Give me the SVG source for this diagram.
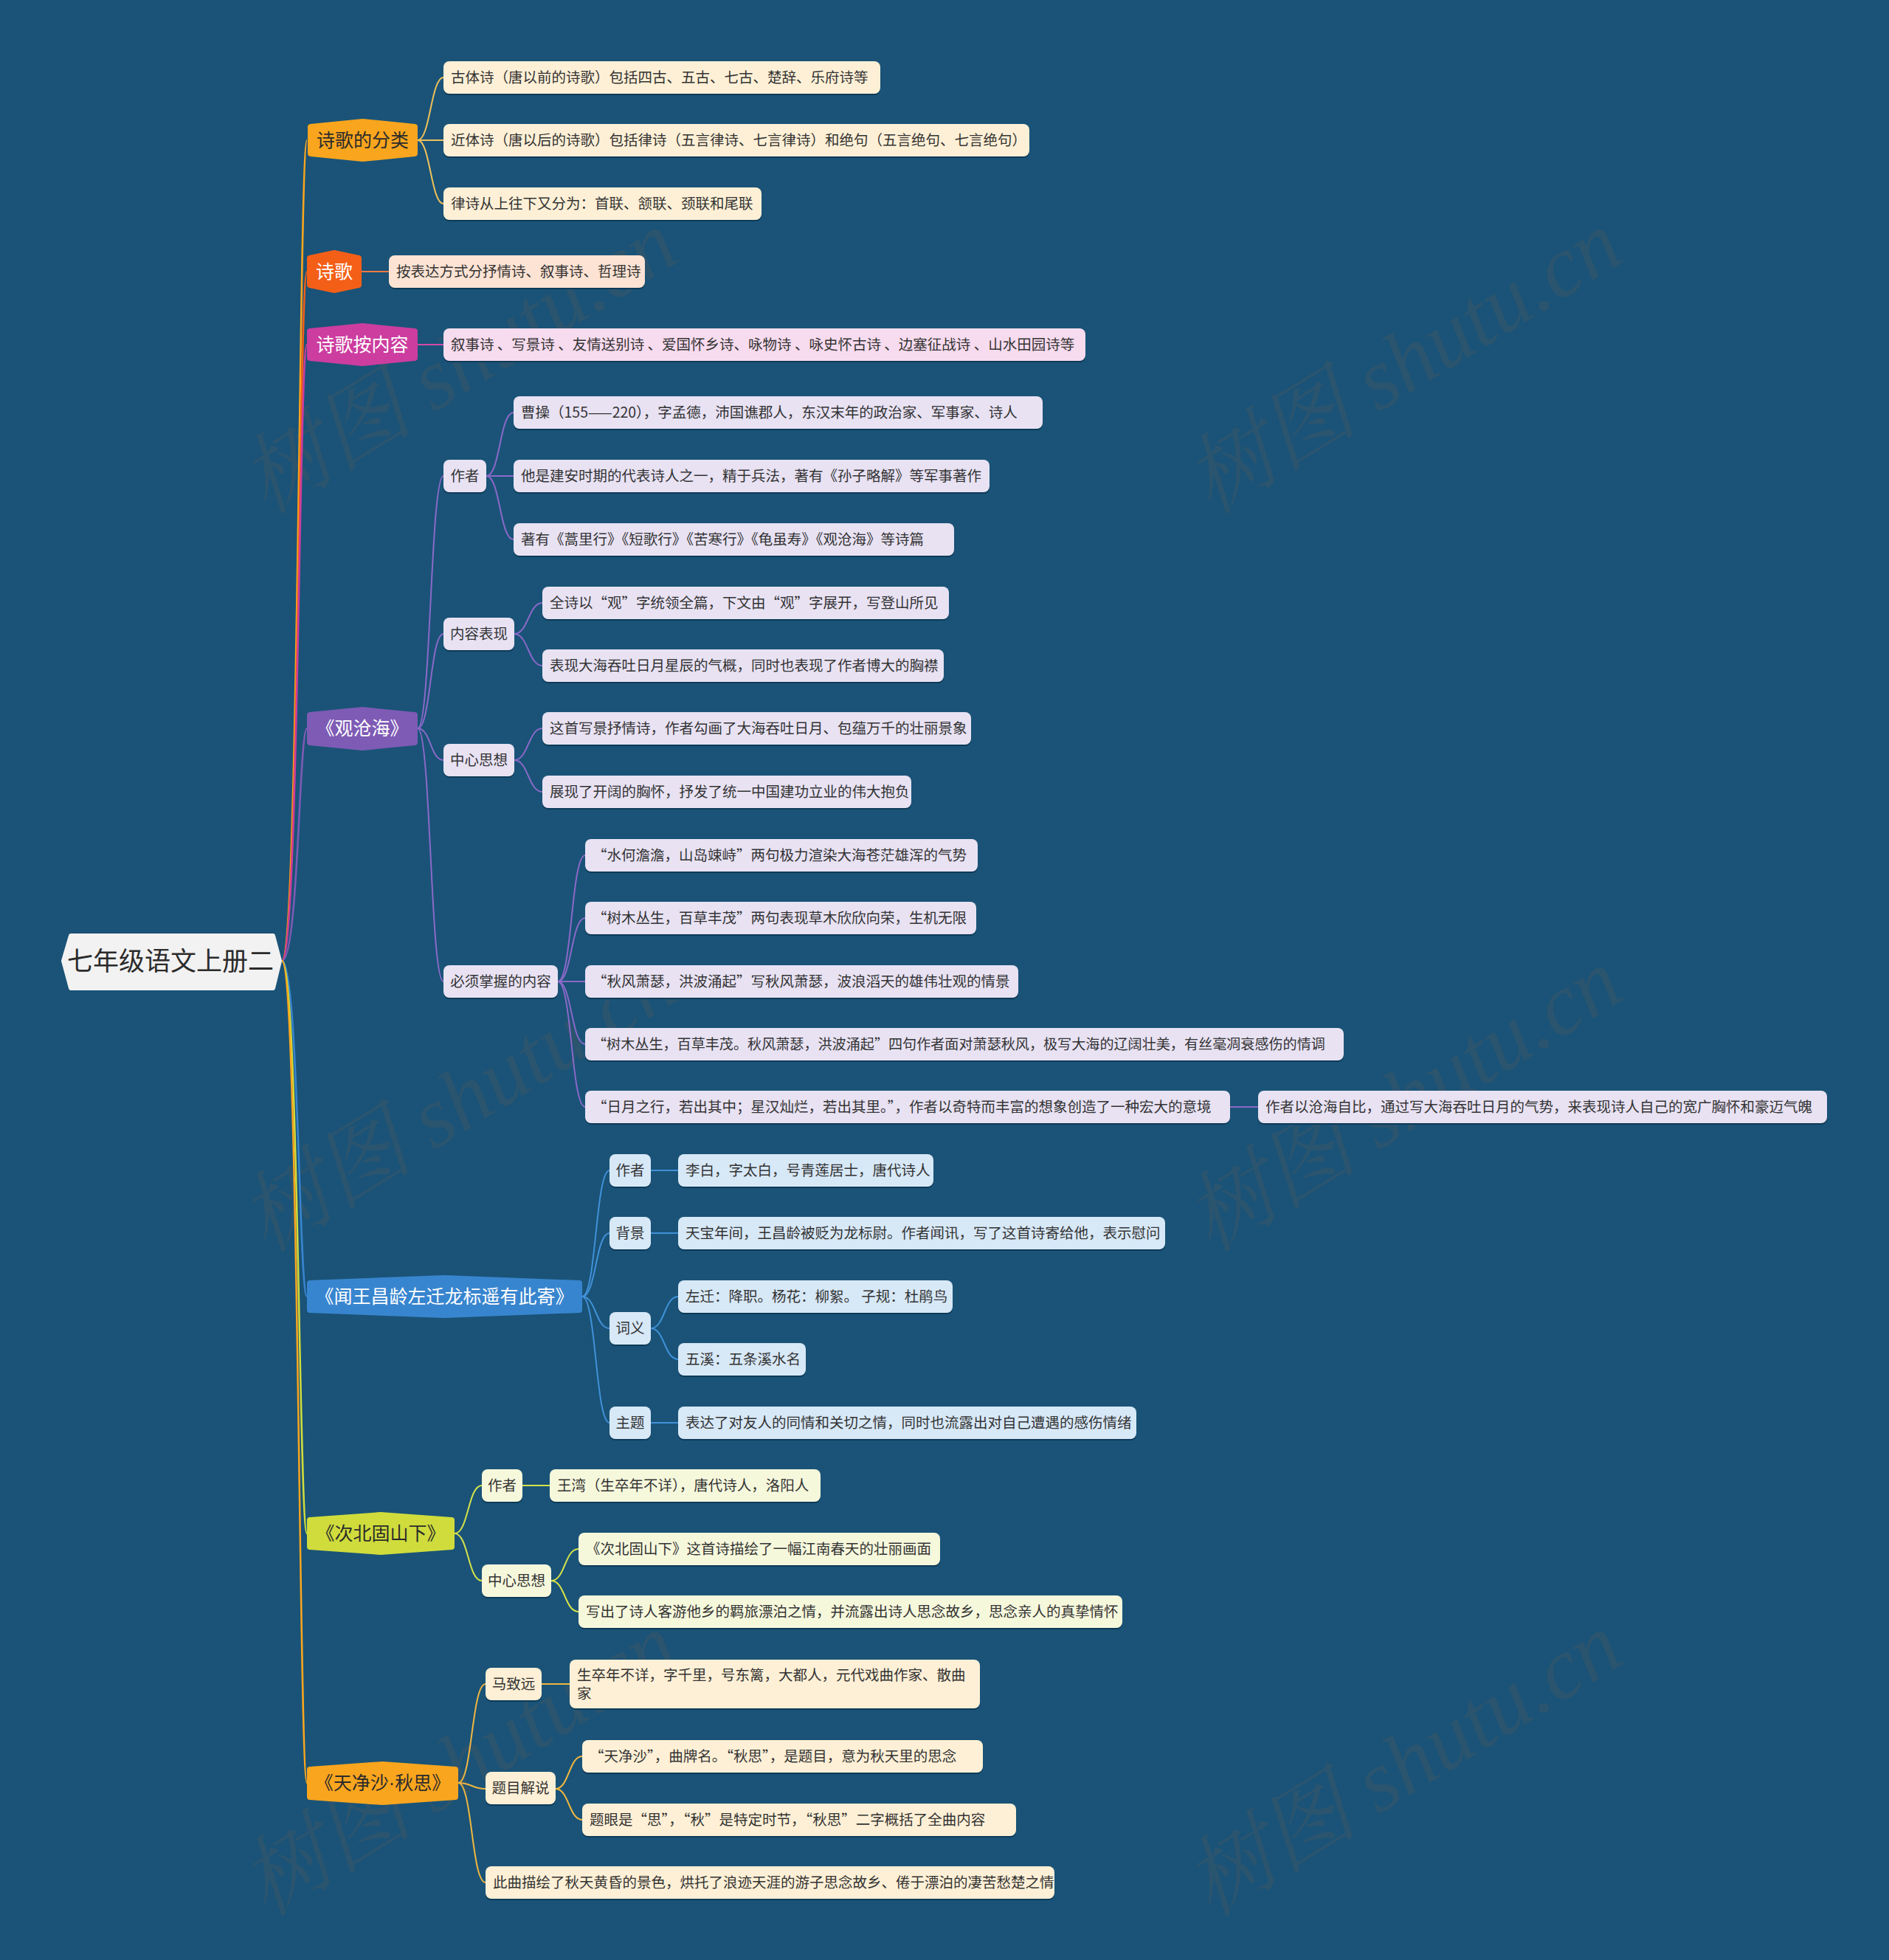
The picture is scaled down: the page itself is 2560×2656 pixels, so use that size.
<svg xmlns="http://www.w3.org/2000/svg" width="2560" height="2656" viewBox="0 0 2560 2656">
<defs>
<style>
text{font-family:"Noto Sans CJK SC","Liberation Sans",sans-serif;}
.t{font-size:19.5px;fill:#333333;}
.tc{font-size:19.5px;fill:#333333;text-anchor:middle;}
.m{font-size:25px;text-anchor:middle;}
.mw{fill:#ffffff;}
.md{fill:#2b2b2b;}
.sh{fill:#0d3a58;}
.hx{stroke-width:8;stroke-linejoin:round;}
.c{fill:none;stroke-width:2;}
.cr{fill:none;stroke-width:2.5;}
.o1{fill:#fef0d6;} .o2{fill:#fde3d3;} .o3{fill:#f7dbee;} .o4{fill:#e8e2f3;} .o5{fill:#d7e8f7;} .o6{fill:#f6f8dc;}
.lat{font-family:"Liberation Sans",sans-serif;}
.wm{font-family:"Liberation Serif","Noto Serif CJK SC","Noto Sans CJK SC",serif;font-style:italic;font-size:118px;fill:#5a5a5a;opacity:0.27;text-anchor:middle;}
</style>
</defs>
<rect x="0" y="0" width="2560" height="2656" fill="#1a5377"/>

<g id="watermarks">
<text class="wm" transform="translate(643,525) rotate(-31.6)">树图 shutu.cn</text>
<text class="wm" transform="translate(1923,525) rotate(-31.6)">树图 shutu.cn</text>
<text class="wm" transform="translate(643,1525) rotate(-31.6)">树图 shutu.cn</text>
<text class="wm" transform="translate(1923,1525) rotate(-31.6)">树图 shutu.cn</text>
<text class="wm" transform="translate(643,2425) rotate(-31.6)">树图 shutu.cn</text>
<text class="wm" transform="translate(1923,2425) rotate(-31.6)">树图 shutu.cn</text>
</g>

<g id="connectors">
<path class="cr" stroke="#f9a51e" d="M382,1302 C405,1302 405,190 416,190"/>
<path class="cr" stroke="#f45f18" d="M382,1302 C405,1302 405,368 416,368"/>
<path class="cr" stroke="#cc3d9f" d="M382,1302 C405,1302 405,467 416,467"/>
<path class="cr" stroke="#7e5bb5" d="M382,1302 C405,1302 405,987 416,987"/>
<path class="cr" stroke="#3885cf" d="M382,1302 C405,1302 405,1757 416,1757"/>
<path class="cr" stroke="#cfdc3c" d="M382,1302 C405,1302 405,2078 416,2078"/>
<path class="cr" stroke="#f9a51e" d="M382,1302 C405,1302 405,2416 416,2416"/>
<g stroke="#efc15a">
<path class="c" d="M566,190 C583,190 584,105 601,105"/>
<path class="c" d="M566,190 L601,190"/>
<path class="c" d="M566,190 C583,190 584,276 601,276"/>
</g>
<path class="c" stroke="#f47a44" d="M490,368 L527,368"/>
<path class="c" stroke="#d34aa8" d="M566,467 L601,467"/>
<g stroke="#8a69c9">
<path class="c" d="M566,987 C584,987 583,645 601,645"/>
<path class="c" d="M566,987 C584,987 583,859 601,859"/>
<path class="c" d="M566,987 C584,987 583,1030 601,1030"/>
<path class="c" d="M566,987 C584,987 583,1330 601,1330"/>
<path class="c" d="M659,645 C678,645 677,559 696,559"/>
<path class="c" d="M659,645 L696,645"/>
<path class="c" d="M659,645 C678,645 677,731 696,731"/>
<path class="c" d="M697,859 C716,859 716,817 735,817"/>
<path class="c" d="M697,859 C716,859 716,902 735,902"/>
<path class="c" d="M697,1030 C716,1030 716,987 735,987"/>
<path class="c" d="M697,1030 C716,1030 716,1073 735,1073"/>
<path class="c" d="M756,1330 C775,1330 774,1159 793,1159"/>
<path class="c" d="M756,1330 C775,1330 774,1244 793,1244"/>
<path class="c" d="M756,1330 L793,1330"/>
<path class="c" d="M756,1330 C775,1330 774,1415 793,1415"/>
<path class="c" d="M756,1330 C775,1330 774,1500 793,1500"/>
<path class="c" d="M1667,1500 L1705,1500"/>
</g>
<g stroke="#4191d8">
<path class="c" d="M789,1757 C808,1757 807,1586 826,1586"/>
<path class="c" d="M789,1757 C808,1757 807,1671 826,1671"/>
<path class="c" d="M789,1757 C808,1757 807,1800 826,1800"/>
<path class="c" d="M789,1757 C808,1757 807,1928 826,1928"/>
<path class="c" d="M882,1586 L919,1586"/>
<path class="c" d="M882,1671 L919,1671"/>
<path class="c" d="M882,1800 C901,1800 900,1757 919,1757"/>
<path class="c" d="M882,1800 C901,1800 900,1842 919,1842"/>
<path class="c" d="M882,1928 L919,1928"/>
</g>
<g stroke="#d6e24a">
<path class="c" d="M616,2078 C635,2078 634,2013 653,2013"/>
<path class="c" d="M616,2078 C635,2078 634,2142 653,2142"/>
<path class="c" d="M708,2013 L745,2013"/>
<path class="c" d="M747,2142 C766,2142 765,2099 784,2099"/>
<path class="c" d="M747,2142 C766,2142 765,2184 784,2184"/>
</g>
<g stroke="#efb540">
<path class="c" d="M621,2416 C640,2416 639,2282 658,2282"/>
<path class="c" d="M621,2416 C640,2416 639,2424 658,2424"/>
<path class="c" d="M621,2416 C640,2416 639,2551 658,2551"/>
<path class="c" d="M734,2282 L772,2282"/>
<path class="c" d="M753,2424 C771,2424 771,2380 789,2380"/>
<path class="c" d="M753,2424 C771,2424 771,2466 789,2466"/>
</g>
</g>

<g id="root">
<polygon points="86,1302 96,1268 370,1268 379,1302 370,1339 96,1339" fill="#f2f2f2" stroke="#f2f2f2" stroke-width="6" stroke-linejoin="round"/>
<text x="231" y="1315" font-size="35" fill="#2b2b2b" text-anchor="middle">七年级语文上册二</text>
</g>

<g id="n-fenlei">
<polygon class="hx" fill="#f9a51e" stroke="#f9a51e" points="421,172 491.5,165 562,172 562,208 491.5,215 421,208"/>
<text class="m md" x="491.5" y="199">诗歌的分类</text>
</g>
<g id="n-fenlei-1"><rect class="sh" x="601" y="85" width="592" height="44" rx="8"/><rect class="o1" x="601" y="83" width="592" height="44" rx="8"/><text class="t" x="611" y="112">古体诗（唐以前的诗歌）包括四古、五古、七古、楚辞、乐府诗等</text></g>
<g id="n-fenlei-2"><rect class="sh" x="601" y="170" width="794" height="44" rx="8"/><rect class="o1" x="601" y="168" width="794" height="44" rx="8"/><text class="t" x="611" y="197">近体诗（唐以后的诗歌）包括律诗（五言律诗、七言律诗）和绝句（五言绝句、七言绝句）</text></g>
<g id="n-fenlei-3"><rect class="sh" x="601" y="256" width="431" height="44" rx="8"/><rect class="o1" x="601" y="254" width="431" height="44" rx="8"/><text class="t" x="611" y="283">律诗从上往下又分为：首联、颔联、颈联和尾联</text></g>

<g id="n-shige">
<polygon class="hx" fill="#f45f18" stroke="#f45f18" points="420,350 453,343 486,350 486,386 453,393 420,386"/>
<text class="m mw" x="453" y="377">诗歌</text>
</g>
<g id="n-shige-1"><rect class="sh" x="527" y="348" width="347" height="44" rx="8"/><rect class="o2" x="527" y="346" width="347" height="44" rx="8"/><text class="t" x="537" y="375">按表达方式分抒情诗、叙事诗、哲理诗</text></g>

<g id="n-neirong">
<polygon class="hx" fill="#cc3d9f" stroke="#cc3d9f" points="420,449 491,442 562,449 562,485 491,492 420,485"/>
<text class="m mw" x="491" y="476">诗歌按内容</text>
</g>
<g id="n-neirong-1"><rect class="sh" x="601" y="447" width="870" height="44" rx="8"/><rect class="o3" x="601" y="445" width="870" height="44" rx="8"/><text class="t" x="611" y="474">叙事诗 、写景诗 、友情送别诗 、爱国怀乡诗、咏物诗 、咏史怀古诗 、边塞征战诗 、山水田园诗等</text></g>

<g id="n-gch">
<polygon class="hx" fill="#7e5bb5" stroke="#7e5bb5" points="420,969 491,962 562,969 562,1006 491,1013 420,1006"/>
<text class="m mw" x="491" y="996">《观沧海》</text>
</g>
<g id="n-gch-zz"><rect class="sh" x="601" y="625" width="58" height="44" rx="8"/><rect class="o4" x="601" y="623" width="58" height="44" rx="8"/><text class="tc" x="630" y="652">作者</text></g>
<g id="n-gch-zz1"><rect class="sh" x="696" y="539" width="717" height="44" rx="8"/><rect class="o4" x="696" y="537" width="717" height="44" rx="8"/><text class="t" x="706" y="566">曹操（155——220），字孟德，沛国谯郡人，东汉末年的政治家、军事家、诗人</text></g>
<g id="n-gch-zz2"><rect class="sh" x="696" y="625" width="645" height="44" rx="8"/><rect class="o4" x="696" y="623" width="645" height="44" rx="8"/><text class="t" x="706" y="652">他是建安时期的代表诗人之一，精于兵法，著有《孙子略解》等军事著作</text></g>
<g id="n-gch-zz3"><rect class="sh" x="696" y="711" width="597" height="44" rx="8"/><rect class="o4" x="696" y="709" width="597" height="44" rx="8"/><text class="t" x="706" y="738">著有《蒿里行》《短歌行》《苦寒行》《龟虽寿》《观沧海》等诗篇</text></g>
<g id="n-gch-nr"><rect class="sh" x="601" y="839" width="96" height="44" rx="8"/><rect class="o4" x="601" y="837" width="96" height="44" rx="8"/><text class="tc" x="649" y="866">内容表现</text></g>
<g id="n-gch-nr1"><rect class="sh" x="735" y="797" width="551" height="44" rx="8"/><rect class="o4" x="735" y="795" width="551" height="44" rx="8"/><text class="t" x="745" y="824">全诗以“观”字统领全篇，下文由“观”字展开，写登山所见</text></g>
<g id="n-gch-nr2"><rect class="sh" x="735" y="882" width="544" height="44" rx="8"/><rect class="o4" x="735" y="880" width="544" height="44" rx="8"/><text class="t" x="745" y="909">表现大海吞吐日月星辰的气概，同时也表现了作者博大的胸襟</text></g>
<g id="n-gch-zx"><rect class="sh" x="601" y="1010" width="96" height="44" rx="8"/><rect class="o4" x="601" y="1008" width="96" height="44" rx="8"/><text class="tc" x="649" y="1037">中心思想</text></g>
<g id="n-gch-zx1"><rect class="sh" x="735" y="967" width="581" height="44" rx="8"/><rect class="o4" x="735" y="965" width="581" height="44" rx="8"/><text class="t" x="745" y="994">这首写景抒情诗，作者勾画了大海吞吐日月、包蕴万千的壮丽景象</text></g>
<g id="n-gch-zx2"><rect class="sh" x="735" y="1053" width="500" height="44" rx="8"/><rect class="o4" x="735" y="1051" width="500" height="44" rx="8"/><text class="t" x="745" y="1080">展现了开阔的胸怀，抒发了统一中国建功立业的伟大抱负</text></g>
<g id="n-gch-bx"><rect class="sh" x="601" y="1310" width="155" height="44" rx="8"/><rect class="o4" x="601" y="1308" width="155" height="44" rx="8"/><text class="tc" x="678.5" y="1337">必须掌握的内容</text></g>
<g id="n-gch-bx1"><rect class="sh" x="793" y="1139" width="532" height="44" rx="8"/><rect class="o4" x="793" y="1137" width="532" height="44" rx="8"/><text class="t" x="803" y="1166">“水何澹澹，山岛竦峙”两句极力渲染大海苍茫雄浑的气势</text></g>
<g id="n-gch-bx2"><rect class="sh" x="793" y="1224" width="530" height="44" rx="8"/><rect class="o4" x="793" y="1222" width="530" height="44" rx="8"/><text class="t" x="803" y="1251">“树木丛生，百草丰茂”两句表现草木欣欣向荣，生机无限</text></g>
<g id="n-gch-bx3"><rect class="sh" x="793" y="1310" width="587" height="44" rx="8"/><rect class="o4" x="793" y="1308" width="587" height="44" rx="8"/><text class="t" x="803" y="1337">“秋风萧瑟，洪波涌起”写秋风萧瑟，波浪滔天的雄伟壮观的情景</text></g>
<g id="n-gch-bx4"><rect class="sh" x="793" y="1395" width="1028" height="44" rx="8"/><rect class="o4" x="793" y="1393" width="1028" height="44" rx="8"/><text class="t" x="803" y="1422" style="font-size:19.1px">“树木丛生，百草丰茂。秋风萧瑟，洪波涌起”四句作者面对萧瑟秋风，极写大海的辽阔壮美，有丝毫凋衰感伤的情调</text></g>
<g id="n-gch-bx5"><rect class="sh" x="793" y="1480" width="874" height="44" rx="8"/><rect class="o4" x="793" y="1478" width="874" height="44" rx="8"/><text class="t" x="803" y="1507">“日月之行，若出其中；星汉灿烂，若出其里。”，作者以奇特而丰富的想象创造了一种宏大的意境</text></g>
<g id="n-gch-bx5a"><rect class="sh" x="1705" y="1480" width="771" height="44" rx="8"/><rect class="o4" x="1705" y="1478" width="771" height="44" rx="8"/><text class="t" x="1715" y="1507">作者以沧海自比，通过写大海吞吐日月的气势，来表现诗人自己的宽广胸怀和豪迈气魄</text></g>

<g id="n-wwcl">
<polygon class="hx" fill="#3885cf" stroke="#3885cf" points="420,1739 602.5,1732 785,1739 785,1775 602.5,1782 420,1775"/>
<text class="m mw" x="602.5" y="1766">《闻王昌龄左迁龙标遥有此寄》</text>
</g>
<g id="n-wwcl-zz"><rect class="sh" x="826" y="1566" width="56" height="44" rx="8"/><rect class="o5" x="826" y="1564" width="56" height="44" rx="8"/><text class="tc" x="854" y="1593">作者</text></g>
<g id="n-wwcl-zz1"><rect class="sh" x="919" y="1566" width="346" height="44" rx="8"/><rect class="o5" x="919" y="1564" width="346" height="44" rx="8"/><text class="t" x="929" y="1593">李白，字太白，号青莲居士，唐代诗人</text></g>
<g id="n-wwcl-bj"><rect class="sh" x="826" y="1651" width="56" height="44" rx="8"/><rect class="o5" x="826" y="1649" width="56" height="44" rx="8"/><text class="tc" x="854" y="1678">背景</text></g>
<g id="n-wwcl-bj1"><rect class="sh" x="919" y="1651" width="660" height="44" rx="8"/><rect class="o5" x="919" y="1649" width="660" height="44" rx="8"/><text class="t" x="929" y="1678">天宝年间，王昌龄被贬为龙标尉。作者闻讯，写了这首诗寄给他，表示慰问</text></g>
<g id="n-wwcl-cy"><rect class="sh" x="826" y="1780" width="56" height="44" rx="8"/><rect class="o5" x="826" y="1778" width="56" height="44" rx="8"/><text class="tc" x="854" y="1807">词义</text></g>
<g id="n-wwcl-cy1"><rect class="sh" x="919" y="1737" width="372" height="44" rx="8"/><rect class="o5" x="919" y="1735" width="372" height="44" rx="8"/><text class="t" x="929" y="1764">左迁：降职。杨花：柳絮。 子规：杜鹃鸟</text></g>
<g id="n-wwcl-cy2"><rect class="sh" x="919" y="1822" width="173" height="44" rx="8"/><rect class="o5" x="919" y="1820" width="173" height="44" rx="8"/><text class="t" x="929" y="1849">五溪：五条溪水名</text></g>
<g id="n-wwcl-zt"><rect class="sh" x="826" y="1908" width="56" height="44" rx="8"/><rect class="o5" x="826" y="1906" width="56" height="44" rx="8"/><text class="tc" x="854" y="1935">主题</text></g>
<g id="n-wwcl-zt1"><rect class="sh" x="919" y="1908" width="621" height="44" rx="8"/><rect class="o5" x="919" y="1906" width="621" height="44" rx="8"/><text class="t" x="929" y="1935">表达了对友人的同情和关切之情，同时也流露出对自己遭遇的感伤情绪</text></g>

<g id="n-cbg">
<polygon class="hx" fill="#cfdc3c" stroke="#cfdc3c" points="420,2060 516,2053 612,2060 612,2096 516,2103 420,2096"/>
<text class="m md" x="516" y="2087">《次北固山下》</text>
</g>
<g id="n-cbg-zz"><rect class="sh" x="653" y="1993" width="55" height="44" rx="8"/><rect class="o6" x="653" y="1991" width="55" height="44" rx="8"/><text class="tc" x="680.5" y="2020">作者</text></g>
<g id="n-cbg-zz1"><rect class="sh" x="745" y="1993" width="367" height="44" rx="8"/><rect class="o6" x="745" y="1991" width="367" height="44" rx="8"/><text class="t" x="755" y="2020">王湾（生卒年不详），唐代诗人，洛阳人</text></g>
<g id="n-cbg-zx"><rect class="sh" x="653" y="2122" width="94" height="44" rx="8"/><rect class="o6" x="653" y="2120" width="94" height="44" rx="8"/><text class="tc" x="700" y="2149">中心思想</text></g>
<g id="n-cbg-zx1"><rect class="sh" x="784" y="2079" width="490" height="44" rx="8"/><rect class="o6" x="784" y="2077" width="490" height="44" rx="8"/><text class="t" x="794" y="2106">《次北固山下》这首诗描绘了一幅江南春天的壮丽画面</text></g>
<g id="n-cbg-zx2"><rect class="sh" x="784" y="2164" width="737" height="44" rx="8"/><rect class="o6" x="784" y="2162" width="737" height="44" rx="8"/><text class="t" x="794" y="2191">写出了诗人客游他乡的羁旅漂泊之情，并流露出诗人思念故乡，思念亲人的真挚情怀</text></g>

<g id="n-tjs">
<polygon class="hx" fill="#f9a51e" stroke="#f9a51e" points="420,2398 518.5,2391 617,2398 617,2435 518.5,2442 420,2435"/>
<text class="m md" x="518.5" y="2425">《天净沙<tspan class="lat">·</tspan>秋思》</text>
</g>
<g id="n-tjs-mzy"><rect class="sh" x="658" y="2262" width="76" height="44" rx="8"/><rect class="o1" x="658" y="2260" width="76" height="44" rx="8"/><text class="tc" x="696" y="2289">马致远</text></g>
<g id="n-tjs-mzy1"><rect class="sh" x="772" y="2251" width="556" height="66" rx="8"/><rect class="o1" x="772" y="2249" width="556" height="66" rx="8"/><text class="t" x="782" y="2277">生卒年不详，字千里，号东篱，大都人，元代戏曲作家、散曲</text><text class="t" x="782" y="2302">家</text></g>
<g id="n-tjs-tm"><rect class="sh" x="658" y="2403" width="95" height="44" rx="8"/><rect class="o1" x="658" y="2401" width="95" height="44" rx="8"/><text class="tc" x="705.5" y="2430">题目解说</text></g>
<g id="n-tjs-tm1"><rect class="sh" x="789" y="2360" width="543" height="44" rx="8"/><rect class="o1" x="789" y="2358" width="543" height="44" rx="8"/><text class="t" x="799" y="2387">“天净沙”，曲牌名。“秋思”，是题目，意为秋天里的思念</text></g>
<g id="n-tjs-tm2"><rect class="sh" x="789" y="2446" width="588" height="44" rx="8"/><rect class="o1" x="789" y="2444" width="588" height="44" rx="8"/><text class="t" x="799" y="2473">题眼是“思”，“秋”是特定时节，“秋思”二字概括了全曲内容</text></g>
<g id="n-tjs-cq"><rect class="sh" x="658" y="2531" width="771" height="44" rx="8"/><rect class="o1" x="658" y="2529" width="771" height="44" rx="8"/><text class="t" x="668" y="2558">此曲描绘了秋天黄昏的景色，烘托了浪迹天涯的游子思念故乡、倦于漂泊的凄苦愁楚之情</text></g>
</svg>
